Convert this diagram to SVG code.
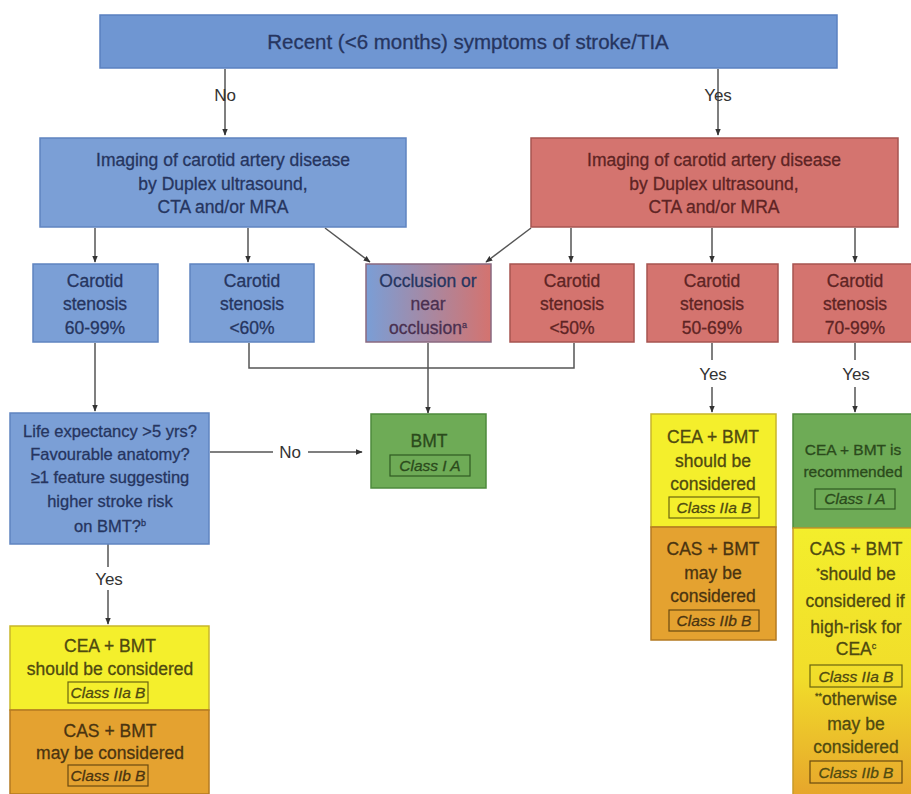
<svg xmlns="http://www.w3.org/2000/svg" width="911" height="794" viewBox="0 0 911 794">
<defs>
<marker id="arr" viewBox="0 0 10 10" refX="9" refY="5" markerWidth="7" markerHeight="7" orient="auto" markerUnits="userSpaceOnUse">
<path d="M0,1 L10,5 L0,9 z" fill="#333"/>
</marker>
<linearGradient id="occ" x1="0" y1="0" x2="1" y2="0">
<stop offset="0" stop-color="#7a9ed6"/>
<stop offset="1" stop-color="#d4736f"/>
</linearGradient>
<linearGradient id="yo" x1="0" y1="0" x2="0" y2="1">
<stop offset="0" stop-color="#f3ee2c"/>
<stop offset="0.55" stop-color="#f1dd2a"/>
<stop offset="1" stop-color="#e6a42c"/>
</linearGradient>
<style>
text{font-family:"Liberation Sans","Open Sans",sans-serif;font-size:17.5px;text-anchor:middle;stroke-width:0.3}
.blue{fill:#7b9fd6;stroke:#5f84c0;stroke-width:1.5}
.red{fill:#d4746f;stroke:#a65450;stroke-width:1.5}
.green{fill:#6eab56;stroke:#4e8a3c;stroke-width:1.5}
.yel{fill:#f4ef2c;stroke:#c8b62a;stroke-width:1.5}
.org{fill:#e4a230;stroke:#b47a20;stroke-width:1.5}
.tb{fill:#26355f;stroke:#26355f}
.tr{fill:#5e2424;stroke:#5e2424}
.tg{fill:#2b4a1c;stroke:#2b4a1c}
.ty{fill:#4f4a10;stroke:#4f4a10}
.to{fill:#4a3410;stroke:#4a3410}
.lab{fill:#333;font-size:17px}
.cls{fill:none;stroke-width:1.2}
.c{fill:none;stroke:#555;stroke-width:1.5}
.ca{fill:none;stroke:#555;stroke-width:1.5;marker-end:url(#arr)}
.it{font-style:italic;font-size:15.5px}
.sm{font-size:16.5px}
.sup{font-size:9px}
.nar{font-size:15.5px}
</style>
</defs>

<g id="connectors">
<line class="ca" x1="225" y1="69" x2="225" y2="135"/>
<line class="ca" x1="718" y1="69" x2="718" y2="135"/>
<line class="ca" x1="95" y1="228" x2="95" y2="262"/>
<line class="ca" x1="248" y1="228" x2="248" y2="262"/>
<line class="ca" x1="325" y1="228" x2="370" y2="262"/>
<line class="ca" x1="531" y1="228" x2="486" y2="262"/>
<line class="ca" x1="571" y1="228" x2="571" y2="262"/>
<line class="ca" x1="712" y1="228" x2="712" y2="262"/>
<line class="ca" x1="855" y1="228" x2="855" y2="262"/>
<polyline class="c" points="249,343 249,368 574,368 574,343"/>
<line class="ca" x1="428" y1="343" x2="428" y2="413"/>
<line class="ca" x1="95" y1="343" x2="95" y2="411"/>
<line class="c" x1="210" y1="452" x2="273" y2="452"/>
<line class="ca" x1="308" y1="452" x2="362" y2="452"/>
<line class="c" x1="108" y1="544" x2="108" y2="567"/>
<line class="ca" x1="108" y1="590" x2="108" y2="624"/>
<line class="c" x1="712" y1="343" x2="712" y2="360"/>
<line class="ca" x1="712" y1="387" x2="712" y2="412"/>
<line class="c" x1="855" y1="343" x2="855" y2="360"/>
<line class="ca" x1="855" y1="387" x2="855" y2="412"/>
<text class="lab" x="225" y="101">No</text>
<text class="lab" x="718" y="101">Yes</text>
<text class="lab" x="290" y="458">No</text>
<text class="lab" x="109" y="585">Yes</text>
<text class="lab" x="713" y="380">Yes</text>
<text class="lab" x="856" y="380">Yes</text>
</g>

<g id="top">
<rect x="100" y="15" width="737" height="53" fill="#6f96d2" stroke="#5a80c0" stroke-width="1.5"/>
<text class="tb" x="468" y="49" style="font-size:20.5px">Recent (&lt;6 months) symptoms of stroke/TIA</text>
</g>

<g id="imaging-no">
<rect class="blue" x="40" y="138" width="366" height="89"/>
<text class="tb" x="223" y="166">Imaging of carotid artery disease</text>
<text class="tb" x="223" y="190">by Duplex ultrasound,</text>
<text class="tb" x="223" y="213">CTA and/or MRA</text>
</g>

<g id="imaging-yes">
<rect class="red" x="531" y="138" width="367" height="89"/>
<text class="tr" x="714" y="166">Imaging of carotid artery disease</text>
<text class="tr" x="714" y="190">by Duplex ultrasound,</text>
<text class="tr" x="714" y="213">CTA and/or MRA</text>
</g>

<g id="sten-60-99">
<rect class="blue" x="33" y="264" width="125" height="78"/>
<text class="tb" x="95" y="287">Carotid</text>
<text class="tb" x="95" y="310">stenosis</text>
<text class="tb" x="95" y="334">60-99%</text>
</g>

<g id="sten-lt60">
<rect class="blue" x="190" y="264" width="124" height="78"/>
<text class="tb" x="252" y="287">Carotid</text>
<text class="tb" x="252" y="310">stenosis</text>
<text class="tb" x="252" y="334">&lt;60%</text>
</g>

<g id="occlusion">
<rect x="366" y="264" width="125" height="78" fill="url(#occ)" stroke="#8a6a80" stroke-width="1.5"/>
<text class="tb" x="428" y="287">Occlusion or</text>
<text fill="#4a3050" stroke="#4a3050" x="428" y="310">near</text>
<text fill="#4a3050" stroke="#4a3050" x="428" y="334">occlusion<tspan class="sup" dy="-6">a</tspan></text>
</g>

<g id="sten-lt50">
<rect class="red" x="510" y="264" width="124" height="78"/>
<text class="tr" x="572" y="287">Carotid</text>
<text class="tr" x="572" y="310">stenosis</text>
<text class="tr" x="572" y="334">&lt;50%</text>
</g>

<g id="sten-50-69">
<rect class="red" x="647" y="264" width="131" height="78"/>
<text class="tr" x="712" y="287">Carotid</text>
<text class="tr" x="712" y="310">stenosis</text>
<text class="tr" x="712" y="334">50-69%</text>
</g>

<g id="sten-70-99">
<rect class="red" x="793" y="264" width="125" height="78"/>
<text class="tr" x="855" y="287">Carotid</text>
<text class="tr" x="855" y="310">stenosis</text>
<text class="tr" x="855" y="334">70-99%</text>
</g>

<g id="life">
<rect class="blue" x="10" y="413" width="199" height="131"/>
<text class="tb sm" x="110" y="437">Life expectancy &gt;5 yrs?</text>
<text class="tb sm" x="110" y="460">Favourable anatomy?</text>
<text class="tb sm" x="110" y="483">≥1 feature suggesting</text>
<text class="tb sm" x="110" y="507">higher stroke risk</text>
<text class="tb sm" x="110" y="532">on BMT?<tspan class="sup" dy="-6">b</tspan></text>
</g>

<g id="bmt">
<rect class="green" x="371" y="414" width="115" height="74"/>
<text class="tg" x="429" y="447">BMT</text>
<rect class="cls" x="390" y="455" width="80" height="21" stroke="#2f5a22"/>
<text class="tg it" x="430" y="471">Class I A</text>
</g>

<g id="left-rec">
<rect class="yel" x="10" y="626" width="199" height="84"/>
<text class="ty" x="110" y="652">CEA + BMT</text>
<text class="ty" x="110" y="675">should be considered</text>
<rect class="cls" x="68" y="682" width="80" height="21" stroke="#6a6410"/>
<text class="ty it" x="108" y="698">Class IIa B</text>
<rect class="org" x="10" y="710" width="199" height="84"/>
<text class="to" x="110" y="737">CAS + BMT</text>
<text class="to" x="110" y="759">may be considered</text>
<rect class="cls" x="68" y="765" width="80" height="21" stroke="#6a4a10"/>
<text class="to it" x="108" y="781">Class IIb B</text>
</g>

<g id="mid-rec">
<rect class="yel" x="651" y="414" width="125" height="113"/>
<text class="ty" x="713" y="443">CEA + BMT</text>
<text class="ty" x="713" y="467">should be</text>
<text class="ty" x="713" y="490">considered</text>
<rect class="cls" x="669" y="497" width="90" height="21" stroke="#6a6410"/>
<text class="ty it" x="714" y="513">Class IIa B</text>
<rect class="org" x="651" y="527" width="125" height="113"/>
<text class="to" x="713" y="555">CAS + BMT</text>
<text class="to" x="713" y="579">may be</text>
<text class="to" x="713" y="602">considered</text>
<rect class="cls" x="669" y="610" width="90" height="21" stroke="#6a4a10"/>
<text class="to it" x="714" y="626">Class IIb B</text>
</g>

<g id="right-rec">
<rect class="green" x="793" y="414" width="125" height="114"/>
<text class="tg nar" x="853" y="455">CEA + BMT is</text>
<text class="tg nar" x="853" y="477">recommended</text>
<rect class="cls" x="815" y="489" width="80" height="20" stroke="#2f5a22"/>
<text class="tg it" x="855" y="504">Class I A</text>
<rect x="793" y="528" width="125" height="270" fill="url(#yo)" stroke="#c89a2a" stroke-width="1.5"/>
<text class="ty" x="856" y="555">CAS + BMT</text>
<text class="ty" x="856" y="580"><tspan class="sup" dy="-6">*</tspan><tspan dy="6">should be</tspan></text>
<text class="ty" x="855" y="607">considered if</text>
<text class="ty" x="856" y="633">high-risk for</text>
<text class="ty" x="856" y="655">CEA<tspan class="sup" dy="-6">c</tspan></text>
<rect class="cls" x="810" y="665" width="92" height="22" stroke="#6a6410"/>
<text class="ty it" x="856" y="682">Class IIa B</text>
<text class="ty" x="856" y="705"><tspan class="sup" dy="-6">**</tspan><tspan dy="6">otherwise</tspan></text>
<text class="ty" x="856" y="730">may be</text>
<text class="ty" x="856" y="753">considered</text>
<rect class="cls" x="810" y="761" width="92" height="22" stroke="#6a4a10"/>
<text class="ty it" x="856" y="778">Class IIb B</text>
</g>
</svg>
